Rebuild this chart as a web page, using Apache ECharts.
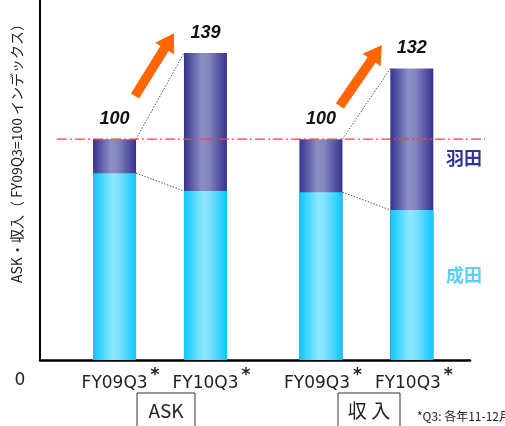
<!DOCTYPE html>
<html><head><meta charset="utf-8">
<script src="https://cdn.jsdelivr.net/npm/echarts@6/dist/echarts.min.js"></script>
<style>html,body{margin:0;padding:0;background:#fff}#c{width:505px;height:426px}</style>
</head><body><div id="c"></div>
<script>
const categories = ['FY09Q3', 'FY10Q3', 'FY09Q3', 'FY10Q3'];
const groupNames = ['ASK', '収 入'];
const narita = [84.6, 76.5, 76.0, 67.9];
const haneda = [15.4, 62.5, 24.0, 64.1];
const indexLabels = [100, 139, 100, 132];
const legendNames = ['羽田', '成田'];
const yAxisTitle = 'ASK・収入（ FY09Q3=100 インデックス）';
const footnote = '*Q3: 各年11-12月';

const groupGap = 0.27;
const xPos = categories.map((c, i) => i + 1 + (i >= 2 ? groupGap : 0));
const barW = 43;
const jp = '"Noto Sans CJK JP", "Noto Sans", sans-serif';
const lat = '"DejaVu Sans", sans-serif';
// stacked tops (narita + haneda), drawn behind the narita segment
const stackTop = narita.map((v, i) => v + haneda[i]);

const gradH = new echarts.graphic.LinearGradient(0, 0, 1, 0, [
  {offset: 0, color: '#34348e'}, {offset: 0.42, color: '#8e8ec6'},
  {offset: 0.58, color: '#8484bf'}, {offset: 1, color: '#34348e'}]);
const gradN = new echarts.graphic.LinearGradient(0, 0, 1, 0, [
  {offset: 0, color: '#0cc6ff'}, {offset: 0.45, color: '#8ce8ff'},
  {offset: 0.6, color: '#7ee2ff'}, {offset: 1, color: '#0cc6ff'}]);

const chart = echarts.init(document.getElementById('c'), null, {renderer: 'canvas'});
chart.setOption({
  animation: false,
  grid: {left: 40, right: 35, top: 0, bottom: 66},
  xAxis: {
    type: 'value', min: 0.18, max: 4.91,
    axisLine: {show: true, onZero: false, lineStyle: {color: '#000', width: 2.5}},
    axisTick: {show: false}, splitLine: {show: false},
    axisLabel: {
      customValues: xPos, margin: 10, interval: 0, hideOverlap: false,
      formatter: v => {
        const i = xPos.findIndex(p => Math.abs(p - v) < 1e-6);
        if (i < 0) return '';
        return '{' + (i < 2 ? 'a' : 'b') + '|' + categories[i] + '}{s|*}';
      },
      rich: {
        a: {fontSize: 17, lineHeight: 20, color: '#222', fontFamily: lat, padding: [8, 0, 0, 12]},
        b: {fontSize: 17, lineHeight: 20, color: '#222', fontFamily: lat, padding: [8, 0, 0, 4]},
        s: {fontSize: 17, lineHeight: 12, fontWeight: 'bold', color: '#222',
            fontFamily: lat, padding: [0, 0, 8, 3]}
      }
    }
  },
  yAxis: {
    type: 'value', min: 0, max: 163,
    axisLine: {show: true, onZero: false, lineStyle: {color: '#000', width: 2}},
    axisTick: {show: false}, axisLabel: {show: false}, splitLine: {show: false}
  },
  series: [
    {type: 'bar', name: legendNames[0], barWidth: barW, z: 2,
     data: stackTop.map((v, i) => [xPos[i], v]), itemStyle: {color: gradH},
     label: {show: true, position: 'top', distance: 11,
       formatter: p => String(indexLabels[p.dataIndex]),
       fontSize: 18, fontWeight: 'bold', fontStyle: 'italic', color: '#111',
       fontFamily: '"Liberation Sans", Arial, sans-serif'}},
    {type: 'bar', name: legendNames[1], barWidth: barW, barGap: '-100%', z: 3,
     data: narita.map((v, i) => [xPos[i], v]), itemStyle: {color: gradN}}
  ]
});

const px = (x, y) => chart.convertToPixel({gridIndex: 0}, [x, y]);
const g = [];
// dotted connectors between bar tops
[[0, 1], [2, 3]].forEach(([a, b]) => {
  const p1 = px(xPos[a], stackTop[a]), p2 = px(xPos[b], stackTop[b]);
  const q1 = px(xPos[a], narita[a]), q2 = px(xPos[b], narita[b]);
  g.push({type: 'line', shape: {x1: p1[0] + barW / 2, y1: p1[1], x2: p2[0] - barW / 2, y2: p2[1]},
    style: {stroke: '#555', lineWidth: 1, lineDash: [1.5, 1.5]}, z: 5});
  g.push({type: 'line', shape: {x1: q1[0] + barW / 2, y1: q1[1], x2: q2[0] - barW / 2, y2: q2[1]},
    style: {stroke: '#555', lineWidth: 1, lineDash: [1.5, 1.5]}, z: 5});
});
// reference line at 100
const ref = px(1, 100);
g.push({type: 'line', shape: {x1: 57, y1: ref[1], x2: 485, y2: ref[1]},
  style: {stroke: '#ff3c3c', lineWidth: 1.3, lineDash: [10, 3, 2, 3]}, z: 6});
// arrows
function arrow(t, p) {
  const dx = p[0] - t[0], dy = p[1] - t[1], L = Math.hypot(dx, dy);
  const ux = dx / L, uy = dy / L, nx = -uy, ny = ux;
  const hl = 18, sh = 4.8, hh = 11;
  const bx = p[0] - ux * hl, by = p[1] - uy * hl;
  return [[t[0] + nx * sh, t[1] + ny * sh], [bx + nx * sh, by + ny * sh], [bx + nx * hh, by + ny * hh],
    [p[0], p[1]], [bx - nx * hh, by - ny * hh], [bx - nx * sh, by - ny * sh], [t[0] - nx * sh, t[1] - ny * sh]];
}
g.push({type: 'polygon', shape: {points: arrow(px(1.225, 119.5), px(1.654, 148))}, style: {fill: '#ff6600'}, z: 6});
g.push({type: 'polygon', shape: {points: arrow(px(3.478, 115), px(3.94, 142.5))}, style: {fill: '#ff6600'}, z: 6});
// texts
g.push({type: 'text', x: 17, y: 283, rotation: Math.PI / 2,
  style: {text: yAxisTitle, font: '14px ' + jp, fill: '#222', align: 'left', verticalAlign: 'middle'}});
g.push({type: 'text', x: 20, y: 381, style: {text: '0', font: '17px ' + lat, fill: '#222', align: 'center', verticalAlign: 'middle'}});
g.push({type: 'text', x: 464, y: 158, style: {text: legendNames[0], font: 'bold 18px ' + jp, fill: '#333399', align: 'center', verticalAlign: 'middle'}});
g.push({type: 'text', x: 464, y: 275, style: {text: legendNames[1], font: 'bold 18px ' + jp, fill: '#62cdf4', align: 'center', verticalAlign: 'middle'}});
[[137, 58, groupNames[0]], [338, 62, groupNames[1]]].forEach(([x, w, t]) => {
  g.push({type: 'rect', shape: {x: x, y: 393, width: w, height: 40}, style: {fill: 'none', stroke: '#333', lineWidth: 1}});
  g.push({type: 'text', x: x + w / 2, y: 411, style: {text: t, font: '19px ' + jp, fill: '#222', align: 'center', verticalAlign: 'middle'}});
});
g.push({type: 'text', x: 417, y: 416, style: {text: footnote, font: '12px ' + jp, fill: '#222', align: 'left', verticalAlign: 'middle'}});
chart.setOption({graphic: {elements: g}});
</script></body></html>
